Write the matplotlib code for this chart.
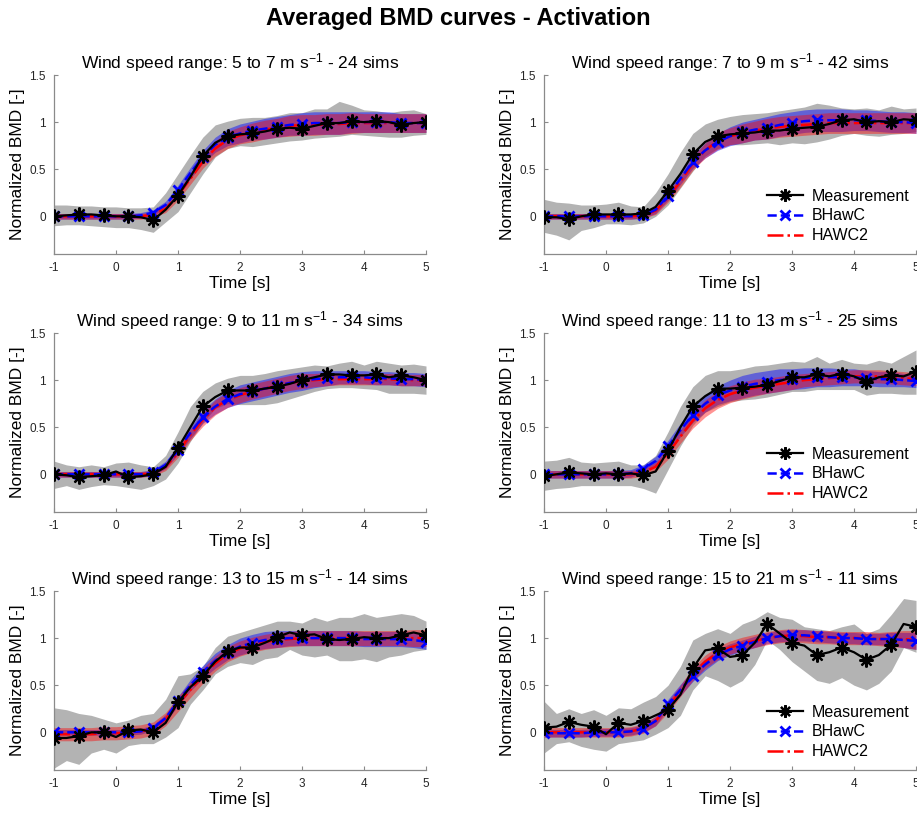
import numpy as np
import matplotlib
matplotlib.use("Agg")
import matplotlib.pyplot as plt

plt.rcParams['font.family'] = ['Liberation Sans', 'DejaVu Sans']
plt.rcParams['mathtext.fontset'] = 'custom'
plt.rcParams['mathtext.rm'] = 'Liberation Sans'
plt.rcParams['mathtext.it'] = 'Liberation Sans:italic'
plt.rcParams['axes.unicode_minus'] = False

# time grid (s)
t = np.round(np.arange(-1.0, 5.0001, 0.2), 1)

titles = [
    r"Wind speed range: 5 to 7 m s$^{\mathregular{-1}}$ - 24 sims",
    r"Wind speed range: 7 to 9 m s$^{\mathregular{-1}}$ - 42 sims",
    r"Wind speed range: 9 to 11 m s$^{\mathregular{-1}}$ - 34 sims",
    r"Wind speed range: 11 to 13 m s$^{\mathregular{-1}}$ - 25 sims",
    r"Wind speed range: 13 to 15 m s$^{\mathregular{-1}}$ - 14 sims",
    r"Wind speed range: 15 to 21 m s$^{\mathregular{-1}}$ - 11 sims",
]
show_legend = [False, True, False, True, False, True]

# ---- 5 to 7 m/s
meas_1 = [0.00,0.01,0.02,0.02,0.01,0.00,0.00,-0.01,-0.04,0.07,0.22,0.42,0.64,0.78,0.85,0.87,0.88,0.90,0.93,0.94,0.93,0.96,0.99,0.99,1.01,1.00,1.01,1.00,0.97,0.99,1.00]
bh_1 = [0.00,0.00,0.00,0.00,0.00,0.00,0.00,0.01,0.04,0.12,0.28,0.46,0.63,0.76,0.84,0.88,0.91,0.93,0.95,0.97,0.98,0.99,0.99,0.99,1.00,1.00,1.00,1.00,0.99,0.99,0.99]
h2_1 = [0.00,0.00,0.00,0.00,0.00,0.00,0.00,0.00,0.02,0.08,0.22,0.40,0.58,0.72,0.81,0.86,0.89,0.92,0.94,0.96,0.97,0.97,0.98,0.98,0.99,0.99,0.99,0.99,0.99,0.99,0.99]
gu_1 = [0.12,0.12,0.11,0.11,0.10,0.10,0.09,0.09,0.10,0.25,0.45,0.65,0.84,0.97,1.01,1.04,1.05,1.05,1.07,1.10,1.10,1.14,1.14,1.22,1.18,1.13,1.12,1.10,1.12,1.13,1.09]
gl_1 = [-0.10,-0.09,-0.09,-0.10,-0.11,-0.12,-0.12,-0.14,-0.17,-0.06,0.05,0.25,0.45,0.63,0.72,0.75,0.74,0.76,0.78,0.80,0.81,0.83,0.84,0.85,0.87,0.86,0.85,0.84,0.84,0.86,0.87]
bsd_1 = [0.03,0.03,0.03,0.03,0.03,0.03,0.03,0.03,0.03,0.04,0.05,0.06,0.07,0.08,0.09,0.10,0.10,0.11,0.11,0.11,0.12,0.12,0.12,0.12,0.11,0.11,0.11,0.11,0.10,0.10,0.10]
rsd_1 = [0.03,0.03,0.03,0.03,0.03,0.03,0.03,0.03,0.03,0.04,0.05,0.06,0.07,0.08,0.09,0.09,0.10,0.10,0.10,0.11,0.11,0.11,0.11,0.11,0.11,0.10,0.10,0.10,0.10,0.10,0.10]

# ---- 7 to 9 m/s
meas_2 = [-0.01,-0.01,-0.03,0.00,0.02,0.02,0.02,0.02,0.03,0.10,0.27,0.45,0.66,0.79,0.85,0.87,0.88,0.89,0.91,0.91,0.93,0.94,0.95,0.98,1.02,1.03,1.00,1.01,1.00,1.03,1.02]
bh_2 = [0.00,0.00,0.00,0.00,0.00,0.00,0.00,0.00,0.01,0.07,0.22,0.40,0.58,0.70,0.79,0.85,0.89,0.92,0.94,0.97,0.99,1.01,1.02,1.02,1.02,1.02,1.02,1.01,1.00,1.00,0.99]
h2_2 = [0.00,0.00,0.00,0.00,0.00,0.00,0.00,0.00,0.01,0.06,0.20,0.37,0.56,0.70,0.80,0.85,0.88,0.91,0.93,0.95,0.96,0.97,0.98,0.99,0.99,0.99,0.99,0.99,0.99,0.99,0.99]
gu_2 = [0.18,0.15,0.14,0.12,0.12,0.13,0.15,0.11,0.10,0.25,0.45,0.68,0.88,0.98,1.03,1.06,1.08,1.09,1.10,1.12,1.14,1.16,1.20,1.18,1.15,1.14,1.15,1.13,1.17,1.14,1.15]
gl_2 = [-0.17,-0.20,-0.25,-0.15,-0.12,-0.08,-0.08,-0.09,-0.07,0.00,0.12,0.30,0.48,0.64,0.72,0.76,0.76,0.77,0.78,0.76,0.78,0.77,0.79,0.82,0.86,0.88,0.86,0.85,0.87,0.88,0.90]
bsd_2 = [0.03,0.03,0.03,0.03,0.03,0.03,0.03,0.03,0.03,0.04,0.05,0.06,0.07,0.08,0.09,0.10,0.11,0.11,0.12,0.12,0.12,0.12,0.12,0.12,0.12,0.11,0.11,0.11,0.11,0.11,0.11]
rsd_2 = [0.03,0.03,0.03,0.03,0.03,0.03,0.03,0.03,0.03,0.04,0.05,0.06,0.07,0.08,0.09,0.09,0.10,0.10,0.11,0.11,0.11,0.11,0.11,0.11,0.11,0.11,0.11,0.11,0.11,0.11,0.11]

# ---- 9 to 11 m/s
meas_3 = [0.00,-0.01,-0.03,-0.02,-0.01,0.03,-0.03,-0.02,0.00,0.08,0.28,0.50,0.72,0.82,0.89,0.89,0.89,0.91,0.93,0.96,1.00,1.03,1.06,1.06,1.05,1.05,1.06,1.03,1.05,1.03,1.00]
bh_3 = [0.00,0.00,0.00,0.00,0.00,0.00,0.00,0.00,0.02,0.10,0.26,0.44,0.61,0.72,0.80,0.85,0.88,0.91,0.94,0.97,0.99,1.01,1.02,1.03,1.03,1.03,1.02,1.02,1.01,1.01,1.00]
h2_3 = [0.00,0.00,0.00,0.00,0.00,0.00,0.00,0.00,0.01,0.08,0.23,0.42,0.58,0.71,0.79,0.84,0.88,0.91,0.94,0.97,0.99,1.00,1.01,1.01,1.01,1.01,1.01,1.01,1.00,1.00,1.00]
gu_3 = [0.14,0.10,0.08,0.10,0.08,0.12,0.13,0.10,0.08,0.20,0.45,0.72,0.88,0.97,1.02,1.05,1.05,1.07,1.10,1.12,1.14,1.16,1.15,1.18,1.20,1.16,1.20,1.18,1.16,1.17,1.15]
gl_3 = [-0.15,-0.12,-0.16,-0.13,-0.11,-0.12,-0.14,-0.16,-0.12,-0.05,0.12,0.35,0.55,0.70,0.75,0.74,0.74,0.74,0.76,0.80,0.84,0.88,0.91,0.92,0.92,0.91,0.90,0.86,0.86,0.86,0.85]
bsd_3 = [0.03,0.03,0.03,0.03,0.03,0.03,0.03,0.03,0.03,0.04,0.05,0.06,0.07,0.08,0.09,0.10,0.10,0.10,0.10,0.10,0.10,0.09,0.08,0.07,0.07,0.07,0.07,0.07,0.07,0.07,0.07]
rsd_3 = [0.03,0.03,0.03,0.03,0.03,0.03,0.03,0.03,0.03,0.04,0.05,0.06,0.07,0.08,0.08,0.08,0.08,0.08,0.08,0.08,0.08,0.07,0.07,0.06,0.06,0.06,0.06,0.06,0.06,0.06,0.06]

# ---- 11 to 13 m/s
meas_4 = [-0.02,0.00,0.02,0.01,0.00,0.01,0.00,0.01,-0.01,0.03,0.25,0.50,0.72,0.83,0.91,0.91,0.92,0.93,0.95,0.99,1.03,1.03,1.06,1.04,1.07,1.04,0.98,1.03,1.05,1.04,1.09]
bh_4 = [0.00,0.00,0.00,0.00,0.00,0.00,0.00,0.01,0.06,0.14,0.30,0.47,0.63,0.75,0.84,0.89,0.93,0.96,0.98,1.00,1.01,1.02,1.03,1.03,1.03,1.03,1.02,1.01,1.01,1.00,0.99]
h2_4 = [0.00,0.00,0.00,0.00,0.00,0.00,0.00,0.00,0.02,0.08,0.22,0.40,0.57,0.70,0.79,0.85,0.89,0.92,0.94,0.96,0.98,1.00,1.01,1.02,1.03,1.04,1.04,1.04,1.03,1.02,1.01]
gu_4 = [0.14,0.15,0.18,0.13,0.12,0.13,0.14,0.10,0.10,0.20,0.45,0.72,0.93,1.05,1.10,1.10,1.12,1.15,1.16,1.18,1.20,1.19,1.25,1.18,1.22,1.18,1.17,1.21,1.18,1.25,1.32]
gl_4 = [-0.17,-0.15,-0.14,-0.12,-0.12,-0.12,-0.12,-0.12,-0.15,-0.20,0.05,0.30,0.52,0.66,0.72,0.77,0.79,0.80,0.82,0.85,0.88,0.88,0.90,0.90,0.90,0.90,0.84,0.86,0.86,0.85,0.85]
bsd_4 = [0.04,0.04,0.04,0.04,0.04,0.04,0.04,0.04,0.04,0.05,0.06,0.07,0.08,0.09,0.10,0.11,0.12,0.12,0.12,0.12,0.11,0.11,0.10,0.10,0.09,0.09,0.08,0.08,0.08,0.07,0.07]
rsd_4 = [0.04,0.04,0.04,0.04,0.04,0.04,0.04,0.04,0.04,0.05,0.06,0.07,0.08,0.09,0.09,0.09,0.09,0.09,0.08,0.08,0.08,0.07,0.07,0.07,0.07,0.07,0.07,0.07,0.07,0.07,0.07]

# ---- 13 to 15 m/s
meas_5 = [-0.06,-0.06,-0.04,0.00,0.00,-0.05,0.02,0.03,0.00,0.10,0.32,0.48,0.60,0.75,0.86,0.90,0.90,0.95,1.01,1.06,1.03,1.04,0.99,0.98,0.99,1.01,1.00,1.00,1.03,1.06,1.03]
bh_5 = [0.00,0.00,0.00,0.00,0.00,0.00,0.00,0.01,0.05,0.15,0.33,0.50,0.64,0.76,0.85,0.91,0.95,0.98,0.99,1.00,1.00,1.00,1.00,1.00,1.00,0.99,0.99,0.99,0.99,0.98,0.96]
h2_5 = [-0.02,-0.02,-0.02,-0.02,-0.01,-0.01,0.00,0.01,0.04,0.14,0.30,0.45,0.60,0.73,0.83,0.89,0.93,0.96,0.98,0.99,1.00,1.00,1.00,1.00,1.00,1.00,1.00,1.00,1.00,1.00,1.00]
gu_5 = [0.26,0.24,0.20,0.18,0.14,0.10,0.13,0.18,0.20,0.35,0.60,0.62,0.70,0.90,1.02,1.06,1.10,1.14,1.18,1.18,1.16,1.22,1.18,1.22,1.22,1.26,1.22,1.24,1.26,1.24,1.18]
gl_5 = [-0.38,-0.30,-0.34,-0.22,-0.18,-0.22,-0.14,-0.12,-0.12,-0.05,0.05,0.30,0.45,0.62,0.70,0.74,0.72,0.78,0.80,0.88,0.82,0.80,0.82,0.76,0.76,0.78,0.75,0.80,0.82,0.86,0.88]
bsd_5 = [0.03,0.03,0.03,0.03,0.03,0.03,0.03,0.03,0.03,0.04,0.05,0.06,0.07,0.08,0.08,0.09,0.09,0.09,0.09,0.08,0.08,0.08,0.08,0.08,0.08,0.08,0.08,0.08,0.08,0.08,0.08]
rsd_5 = [0.07,0.07,0.07,0.07,0.07,0.07,0.07,0.07,0.07,0.07,0.08,0.08,0.08,0.08,0.08,0.08,0.08,0.08,0.08,0.08,0.08,0.08,0.08,0.08,0.08,0.08,0.08,0.08,0.08,0.09,0.09]

# ---- 15 to 21 m/s
meas_6 = [0.05,0.06,0.11,0.08,0.06,-0.02,0.10,0.08,0.12,0.18,0.24,0.40,0.68,0.87,0.89,0.80,0.82,0.95,1.15,1.05,0.95,0.92,0.82,0.85,0.90,0.85,0.77,0.82,0.93,1.15,1.12]
bh_6 = [-0.01,-0.01,-0.01,-0.01,0.00,0.00,0.00,0.01,0.04,0.12,0.30,0.45,0.60,0.72,0.82,0.88,0.92,0.96,1.00,1.02,1.03,1.03,1.02,1.01,1.00,1.00,0.99,0.99,0.99,0.98,0.97]
h2_6 = [0.00,0.00,0.00,0.00,0.00,0.00,0.00,0.01,0.04,0.12,0.27,0.44,0.62,0.75,0.84,0.90,0.94,0.97,1.00,1.02,1.03,1.02,1.01,1.01,1.00,1.00,1.00,0.99,0.99,0.99,0.98]
gu_6 = [0.33,0.20,0.25,0.20,0.24,0.18,0.26,0.25,0.32,0.38,0.50,0.70,0.98,1.05,1.10,1.05,1.15,1.20,1.28,1.22,1.20,1.12,1.10,1.08,1.12,1.15,1.05,1.10,1.25,1.42,1.40]
gl_6 = [-0.22,-0.12,-0.10,-0.15,-0.18,-0.20,-0.12,-0.10,-0.08,-0.02,0.05,0.18,0.45,0.60,0.55,0.48,0.55,0.72,0.98,0.88,0.75,0.65,0.55,0.52,0.58,0.50,0.45,0.52,0.65,0.90,0.85]
bsd_6 = [0.04,0.04,0.04,0.04,0.04,0.04,0.04,0.04,0.04,0.05,0.05,0.06,0.06,0.06,0.06,0.06,0.06,0.06,0.06,0.06,0.06,0.06,0.06,0.06,0.06,0.06,0.06,0.06,0.07,0.08,0.09]
rsd_6 = [0.05,0.05,0.05,0.05,0.05,0.05,0.05,0.05,0.05,0.05,0.06,0.06,0.07,0.07,0.07,0.07,0.07,0.07,0.07,0.07,0.07,0.07,0.07,0.07,0.07,0.07,0.07,0.07,0.08,0.09,0.10]

panels = [
    (meas_1, bh_1, h2_1, gu_1, gl_1, bsd_1, rsd_1),
    (meas_2, bh_2, h2_2, gu_2, gl_2, bsd_2, rsd_2),
    (meas_3, bh_3, h2_3, gu_3, gl_3, bsd_3, rsd_3),
    (meas_4, bh_4, h2_4, gu_4, gl_4, bsd_4, rsd_4),
    (meas_5, bh_5, h2_5, gu_5, gl_5, bsd_5, rsd_5),
    (meas_6, bh_6, h2_6, gu_6, gl_6, bsd_6, rsd_6),
]

xticks = [-1, 0, 1, 2, 3, 4, 5]
yticks = [0, 0.5, 1, 1.5]
yticklabels = ["0", "0.5", "1", "1.5"]

W, H = 917, 813
fig = plt.figure(figsize=(W / 100, H / 100), dpi=100)

lefts = [54, 544]
tops = [75, 333, 591]
ax_w = 372
ax_h = 179

star = (8, 2, 0)
axcol = '#8a8a8a'
txtcol = '#262626'

for i, (meas, bh, h2, gu, gl, bsd, rsd) in enumerate(panels):
    r, c = divmod(i, 2)
    x0 = lefts[c]
    y0 = tops[r]
    ax = fig.add_axes([x0 / W, 1 - (y0 + ax_h) / H, ax_w / W, ax_h / H])
    meas = np.array(meas); bh = np.array(bh); h2 = np.array(h2)
    bsd = np.array(bsd); rsd = np.array(rsd)
    ax.fill_between(t, gl, gu, color='#b3b3b3', lw=0, zorder=1)
    ax.fill_between(t, bh - bsd, bh + bsd, color='#0000ff', alpha=0.45, lw=0, zorder=2)
    ax.fill_between(t, h2 - rsd, h2 + rsd, color='#ff0000', alpha=0.42, lw=0, zorder=3)
    ax.plot(t, h2, color='#ff0000', ls='-.', lw=1.8, zorder=4, label='HAWC2')
    ax.plot(t, bh, color='#0000ff', ls='--', lw=1.8, marker='x', markevery=2,
            ms=7.5, mew=2.0, zorder=5, label='BHawC')
    ax.plot(t, meas, color='black', ls='-', lw=1.6, marker=star, markevery=2,
            ms=10, mew=1.6, zorder=6, label='Measurement')
    ax.set_xlim(-1, 5)
    ax.set_ylim(-0.4, 1.5)
    ax.set_xticks(xticks)
    ax.set_yticks(yticks)
    ax.set_yticklabels(yticklabels)
    for s in ['top', 'right']:
        ax.spines[s].set_visible(False)
    for s in ['left', 'bottom']:
        ax.spines[s].set_color(axcol)
        ax.spines[s].set_linewidth(0.9)
    ax.tick_params(direction='in', length=3, width=0.8, color=axcol,
                   labelsize=8.5, labelcolor=txtcol, pad=6)
    ax.set_title(titles[i], fontsize=12.5, color='black', pad=5)
    ax.set_xlabel('Time [s]', fontsize=12.5, labelpad=1)
    ax.set_ylabel('Normalized BMD [-]', fontsize=12.5, labelpad=3)
    if show_legend[i]:
        h, l = ax.get_legend_handles_labels()
        order = [2, 1, 0]
        ax.legend([h[k] for k in order], [l[k] for k in order],
                  loc='lower right', bbox_to_anchor=(1.02, -0.02),
                  frameon=False, fontsize=11.5, handlelength=2.3,
                  labelspacing=0.3, handletextpad=0.5, markerscale=0.9)

fig.text(0.5, 1 - 18 / H, 'Averaged BMD curves - Activation', ha='center', va='center',
         fontsize=17, fontweight='bold')

fig.savefig('out.png', dpi=100)
